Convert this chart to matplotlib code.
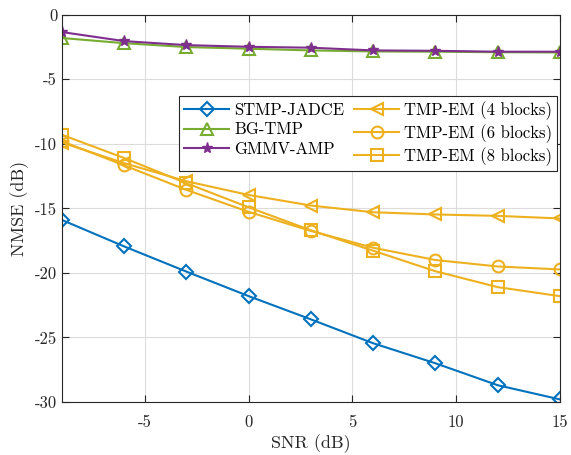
import numpy as np
import matplotlib
matplotlib.use("Agg")
from matplotlib import pyplot as plt

plt.rcParams['font.family'] = 'serif'
plt.rcParams['font.serif'] = ['cmr10', 'DejaVu Serif']
plt.rcParams['mathtext.fontset'] = 'cm'
plt.rcParams['axes.unicode_minus'] = False
plt.rcParams['axes.formatter.use_mathtext'] = False

# data
snr = [-9, -6, -3, 0, 3, 6, 9, 12, 15]
stmp_jadce = [-15.9, -17.95, -19.9, -21.8, -23.6, -25.45, -27.0, -28.7, -29.8]
bg_tmp = [-1.8, -2.2, -2.5, -2.63, -2.76, -2.84, -2.86, -2.9, -2.92]
gmmv_amp = [-1.34, -2.04, -2.35, -2.48, -2.55, -2.76, -2.79, -2.86, -2.86]
tmp_em4 = [-9.9, -11.5, -12.9, -13.96, -14.78, -15.3, -15.47, -15.58, -15.78]
tmp_em6 = [-9.8, -11.67, -13.57, -15.27, -16.75, -18.05, -19.0, -19.5, -19.73]
tmp_em8 = [-9.3, -11.1, -13.05, -14.92, -16.7, -18.28, -19.87, -21.1, -21.8]
xticks = [-5, 0, 5, 10, 15]
yticks = [-30, -25, -20, -15, -10, -5, 0]

blue = '#0072BD'
green = '#77AC30'
purple = '#7E2F8E'
yellow = '#EDB120'

fig = plt.figure(figsize=(5.71, 4.55), dpi=100)
ax = fig.add_axes([0.1086, 0.1165, 0.872, 0.851])

kw = dict(linewidth=1.5, markersize=8.5, markerfacecolor='none', markeredgewidth=1.5)
ax.plot(snr, stmp_jadce, color=blue, marker='D', label='STMP-JADCE', **dict(kw, markersize=7.5))
ax.plot(snr, bg_tmp, color=green, marker='^', label='BG-TMP', **kw)
ax.plot(snr, gmmv_amp, color=purple, marker='*', label='GMMV-AMP', linewidth=1.5,
        markersize=8, markerfacecolor=purple, markeredgecolor=purple)
ax.plot(snr, tmp_em4, color=yellow, marker='<', label='TMP-EM (4 blocks)', **kw)
ax.plot(snr, tmp_em6, color=yellow, marker='o', label='TMP-EM (6 blocks)', **kw)
ax.plot(snr, tmp_em8, color=yellow, marker='s', label='TMP-EM (8 blocks)', **kw)

ax.set_xlim(-9, 15)
ax.set_ylim(-30, 0)
ax.set_xticks(xticks)
ax.set_xticklabels([str(t) for t in xticks])
ax.set_yticks(yticks)
ax.set_yticklabels([str(t) for t in yticks])
ax.grid(True, color='#dcdcdc', linewidth=0.8)
ax.tick_params(direction='in', top=True, right=True, labelsize=12, length=5, colors='#262626')
ax.tick_params(axis='x', pad=9)
for s in ax.spines.values():
    s.set_color('#262626')
    s.set_linewidth(0.8)
ax.set_xlabel('SNR (dB)', fontsize=13, color='#262626', labelpad=3)
ax.set_ylabel('NMSE (dB)', fontsize=13, color='#262626')

leg = ax.legend(ncol=2, loc='upper right', bbox_to_anchor=(0.995, 0.79), fontsize=12,
                frameon=True, fancybox=False, edgecolor='#262626', framealpha=1,
                handlelength=2.7, columnspacing=0.6, labelspacing=0.25,
                borderpad=0.3, handletextpad=0.3, borderaxespad=0)
leg.get_frame().set_linewidth(0.8)

plt.savefig('out.png', dpi=100)
